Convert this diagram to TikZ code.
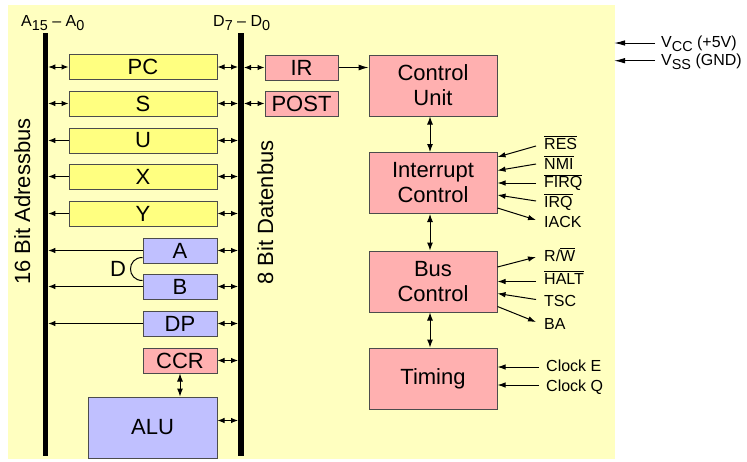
\documentclass[tikz,border=0pt]{standalone}
\usepackage{fontspec}
\setmainfont{Liberation Sans}
\usetikzlibrary{arrows.meta,calc}
\definecolor{bgyel}{RGB}{255,255,192}
\definecolor{regyel}{RGB}{255,255,128}
\definecolor{regpink}{RGB}{255,176,176}
\definecolor{regblue}{RGB}{192,192,255}
\newcommand\lowsub[1]{\raisebox{-4pt}{\fontsize{14.4}{15}\selectfont #1}}
\newcommand\ovl[1]{\ensuremath{\overline{\mbox{#1}}}}
\begin{document}
\begin{tikzpicture}[x=1pt,y=-1pt,
  box/.style={draw=black!70, line width=1pt, inner sep=0pt, align=center,
    font=\fontsize{22}{25}\selectfont},
  longreg/.style={box, fill=regyel, minimum width=148, minimum height=25},
  shortreg/.style={box, minimum width=74, minimum height=25},
  unit/.style={box, fill=regpink, minimum width=128, minimum height=61},
  sig/.style={inner sep=0pt, anchor=base west, font=\fontsize{16}{18}\selectfont},
  buslbl/.style={inner sep=0pt, anchor=base, rotate=90, font=\fontsize{22}{24}\selectfont},
  conn/.style={line width=1pt, black},
  smtip/.style={conn, {Latex[length=7pt,width=5.5pt]}-{Latex[length=7pt,width=5.5pt]}},
  tobus/.style={conn, -{Latex[length=7pt,width=5.5pt]}},
  sigin/.style={conn, -{Latex[length=8pt,width=5.5pt]}},
  vbi/.style={conn, {Latex[length=8pt,width=6pt]}-{Latex[length=8pt,width=6pt]}},
]
\useasboundingbox (0,0) rectangle (747,461);
\fill[bgyel] (8,5) rectangle (615,459);

% buses
\coordinate (lbT) at (45.5,33);
\coordinate (lbB) at (45.5,456);
\coordinate (rbT) at (241,33);
\coordinate (rbB) at (241,456);
\coordinate (lbE) at (48.3,0);
\coordinate (rbW) at (238,0);
\coordinate (rbE) at (244,0);
\coordinate (vx) at (430,0);
\coordinate (bgE) at (614,0);
\draw[line width=5.5pt] (lbT) -- (lbB);
\draw[line width=6pt] (rbT) -- (rbB);

% labels
\node[sig] (atop) at (21,26.7) {A\lowsub{15} – A\lowsub{0}};
\node[sig] (dtop) at (213,26.7) {D\lowsub{7} – D\lowsub{0}};
\node[buslbl] (albl) at (30,201.5) {16 Bit Adressbus};
\node[buslbl] (dlbl) at (273,212.5) {8 Bit Datenbus};

% registers
\node[longreg] (PC) at (143,67) {PC};
\node[longreg] (S) at (143,103.5) {S};
\node[longreg] (U) at (143,140.5) {U};
\node[longreg] (X) at (143,176.5) {X};
\node[longreg] (Y) at (143,213.5) {Y};
\node[shortreg, fill=regblue] (A) at (180,250.5) {A};
\node[shortreg, fill=regblue] (B) at (180,286.5) {B};
\node[shortreg, fill=regblue] (DP) at (180,323.5) {DP};
\node[shortreg, fill=regpink] (CCR) at (180,360.5) {CCR};
\node[box, fill=regblue, minimum width=129, minimum height=61] (ALU) at (152.5,427.5) {ALU};
\node[box, fill=regpink, minimum width=73, minimum height=25] (IR) at (301.5,67.5) {IR};
\node[box, fill=regpink, minimum width=73, minimum height=25] (POST) at (301.5,103.5) {POST};

% units
\node[unit] (CU) at (433,85.5) {Control\\Unit};
\node[unit] (IC) at (433,183) {Interrupt\\Control};
\node[unit] (BC) at (433,281.5) {Bus\\Control};
\node[unit] (TM) at (433,378.5) {Timing};

% left bus connections
\draw[smtip] (PC.west) -- (PC.west -| lbE);
\draw[smtip] (S.west) -- (S.west -| lbE);
\foreach \r in {U,X,Y,A,B,DP} \draw[tobus] (\r.west) -- (\r.west -| lbE);

% right bus connections
\foreach \r in {PC,S,U,X,Y,A,B,DP,CCR} \draw[smtip] (\r.east) -- (\r.east -| rbW);
\draw[smtip] ($(ALU.east)+(0,-7)$) -- ($(ALU.east -| rbW)+(0,-7)$);
\draw[smtip] (IR.west -| rbE) -- (IR.west);
\draw[smtip] (POST.west -| rbE) -- (POST.west);

% D bracket
\draw[conn] ($(A.south west)+(0,-6)$) .. controls ($(A.south west)+(-16,-6)$) and ($(B.north west)+(-16,7)$) .. ($(B.north west)+(0,7)$);
\node[inner sep=0pt, font=\fontsize{22}{24}\selectfont] (Dlbl) at (118,268.5) {D};

% CCR - ALU
\draw[vbi] (CCR.south) -- (CCR.south |- ALU.north);

% IR -> CU
\draw[conn, -{Latex[length=10pt,width=6pt]}] (IR.east) -- (IR.east -| CU.west);

% vertical unit links
\draw[vbi] (CU.south -| vx) -- (IC.north -| vx);
\draw[vbi] (IC.south -| vx) -- (BC.north -| vx);
\draw[vbi] (BC.south -| vx) -- (TM.north -| vx);

% interrupt signals
\node[sig] (res) at (544,149) {\ovl{RES}};
\node[sig] (nmi) at (544,169) {\ovl{NMI}};
\node[sig] (firq) at (544,187.5) {\ovl{FIRQ}};
\node[sig] (irq) at (544,207) {\ovl{IRQ}};
\node[sig] (iack) at (544,227) {IACK};
\draw[sigin] ($(res.base west)+(-8,-3)$) -- ($(IC.east)+(0,-26)$);
\draw[sigin] ($(nmi.base west)+(-8,-5)$) -- ($(IC.east)+(0,-12.5)$);
\draw[sigin] ($(firq.base west)+(-8,-4.5)$) -- (IC.east);
\draw[sigin] ($(irq.base west)+(-8,-6)$) -- ($(IC.east)+(0,12)$);
\draw[sigin] ($(IC.east)+(0,25)$) -- ($(iack.base west)+(-8,-7)$);

% bus control signals
\node[sig] (rw) at (544,261) {R/\ovl{W}};
\node[sig] (halt) at (544,284) {\ovl{HALT}};
\node[sig] (tsc) at (544,306.5) {TSC};
\node[sig] (ba) at (544,329) {BA};
\draw[sigin] ($(BC.east)+(0,-14.5)$) -- ($(rw.base west)+(-8,-4)$);
\draw[sigin] ($(halt.base west)+(-8,-2.5)$) -- (BC.east);
\draw[sigin] ($(tsc.base west)+(-8,-7)$) -- ($(BC.east)+(0,12)$);
\draw[sigin] ($(BC.east)+(0,25)$) -- ($(ba.base west)+(-8,-7)$);

% timing signals
\node[sig] (clke) at (546,371.7) {Clock E};
\node[sig] (clkq) at (546,391.7) {Clock Q};
\draw[sigin] ($(clke.base west)+(-7,-4.7)$) -- ($(TM.east)+(0,-11.5)$);
\draw[sigin] ($(clkq.base west)+(-7,-6.7)$) -- ($(TM.east)+(0,6.5)$);

% supply
\node[sig] (vcc) at (661,47.7) {V\lowsub{CC} (+5V)};
\node[sig] (vss) at (661,65) {V\lowsub{SS} (GND)};
\draw[conn, -{Latex[length=11pt,width=5.5pt]}] ($(vcc.base west)+(-6,-4.7)$) -- ($(vcc.base west -| bgE)+(0,-4.7)$);
\draw[conn, -{Latex[length=11pt,width=5.5pt]}] ($(vss.base west)+(-6,-4.3)$) -- ($(vss.base west -| bgE)+(0,-4.3)$);
\end{tikzpicture}
\end{document}
